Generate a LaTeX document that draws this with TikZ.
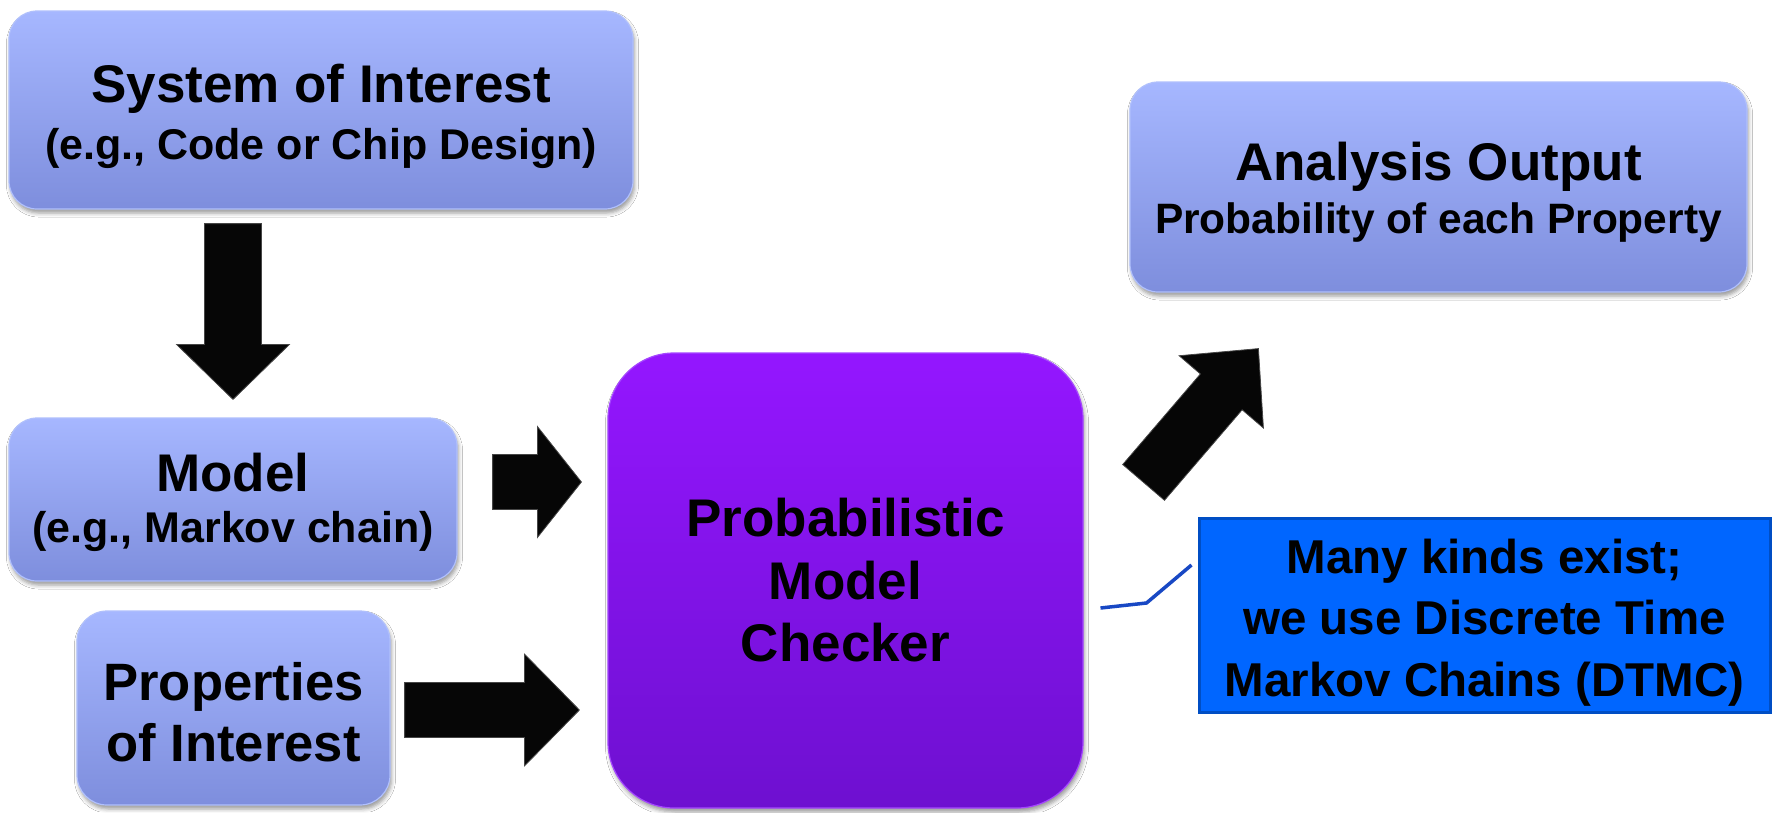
\documentclass[tikz,border=0pt]{standalone}
\usepackage{fontspec}
\setmainfont{Liberation Sans}
\usetikzlibrary{calc,shadows.blur}

\definecolor{boxTop}{RGB}{166,183,255}
\definecolor{boxBot}{RGB}{126,142,221}
\definecolor{boxEdge}{RGB}{176,192,252}
\definecolor{purTop}{RGB}{148,22,255}
\definecolor{purBot}{RGB}{110,16,208}
\definecolor{purEdge}{RGB}{165,70,255}
\definecolor{noteFill}{RGB}{0,102,255}
\definecolor{noteEdge}{RGB}{0,78,196}
\definecolor{leader}{RGB}{24,72,196}
\definecolor{arrowInk}{RGB}{6,6,6}
\definecolor{arrowEdge}{RGB}{70,70,70}

% block arrow: tail, tip, shaft half-width, head half-width, head length
\newcommand\blockarrow[5]{%
  \coordinate (ba-base) at ($(#2)!#5!(#1)$);
  \fill[arrowbody]
    ($(#1)!#3!90:(#2)$) -- ($(ba-base)!#3!-90:(#1)$) -- ($(ba-base)!#4!-90:(#1)$)
    -- (#2)
    -- ($(ba-base)!#4!90:(#1)$) -- ($(ba-base)!#3!90:(#1)$) -- ($(#1)!#3!-90:(#2)$) -- cycle;
}

\tikzset{
  softshadow/.style={blur shadow={shadow xshift=1.5pt, shadow yshift=-4pt,
      shadow blur radius=4pt, shadow opacity=40}},
  stagebox/.style={rounded corners=28pt, top color=boxTop, bottom color=boxBot,
      draw=boxEdge, line width=1.2pt, inner sep=0pt, align=center, text=black,
      softshadow},
  checkerbox/.style={rounded corners=66pt, top color=purTop, bottom color=purBot,
      draw=purEdge, line width=1.2pt, inner sep=0pt, align=center, text=black,
      softshadow},
  notebox/.style={fill=noteFill, draw=noteEdge, line width=3pt, inner sep=0pt,
      align=center, text=black},
  arrowbody/.style={fill=arrowInk, draw=arrowEdge, line width=0.8pt, line join=miter},
  leaderline/.style={draw=leader, line width=3.5pt},
}

\newcommand\bigsz[1]{\fontsize{53}{57}\selectfont #1}
% invisible strut that pushes a text block down inside its box
\newcommand\headroom[1]{\rule{0pt}{#1}}

\begin{document}
\begin{tikzpicture}[x=1pt, y=-1pt]
  \useasboundingbox (0,0) rectangle (1773,812);
  \fill[white] (0,0) rectangle (1773,812);

  % stages
  \node[stagebox, minimum width=624pt, minimum height=198pt,
        font=\fontsize{43}{57}\selectfont\bfseries] (sys) at (321,110)
    {\headroom{51pt}\bigsz{System of Interest}\\(e.g., Code or Chip Design)};
  \node[stagebox, minimum width=448pt, minimum height=163pt,
        font=\fontsize{43}{51}\selectfont\bfseries] (model) at (233,499.5)
    {\headroom{45pt}\bigsz{Model}\\(e.g., Markov chain)};
  \node[stagebox, minimum width=313pt, minimum height=194pt, rounded corners=30pt,
        font=\fontsize{52.6}{61}\selectfont\bfseries] (props) at (233.5,708)
    {\headroom{46.5pt}Properties\\of Interest};
  \node[checkerbox, minimum width=475pt, minimum height=455pt,
        font=\fontsize{53}{62.5}\selectfont\bfseries] (pmc) at (845.5,580.5)
    {Probabilistic\\Model\\Checker};
  \node[stagebox, minimum width=617pt, minimum height=210pt,
        font=\fontsize{42.5}{53}\selectfont\bfseries] (ana) at (1438.5,187)
    {\headroom{49pt}\bigsz{Analysis Output}\\Probability of each Property};
  \node[notebox, minimum width=571pt, minimum height=194pt,
        font=\fontsize{47.5}{61.5}\selectfont\bfseries] (note) at (1484.5,615)
    {\headroom{49pt}Many kinds exist;\\we use Discrete Time\\Markov Chains (DTMC)};

  % arrow end points, taken from the boxes they join
  \coordinate (a1s) at ($(sys.south -| model.north)+(0,14)$);
  \coordinate (a1e) at ($(model.north)+(0,-18)$);
  \coordinate (a2s) at ($(model.east)+(35,-17.5)$);
  \coordinate (a2e) at ($(model.east -| pmc.west)+(-26,-17.5)$);
  \coordinate (a3s) at ($(props.east)+(14,2)$);
  \coordinate (a3e) at ($(props.east -| pmc.west)+(-28,2)$);
  \coordinate (a4s) at ($(pmc.north east)+(60,130)$);
  \coordinate (a4e) at ($(ana.south west)+(129,56)$);

  \blockarrow{a1s}{a1e}{28.5pt}{56.5pt}{55pt}
  \blockarrow{a2s}{a2e}{27.5pt}{55.5pt}{44pt}
  \blockarrow{a3s}{a3e}{27.5pt}{56pt}{55pt}
  \blockarrow{a4s}{a4e}{27.5pt}{55.5pt}{57pt}

  % callout leader towards the checker
  \coordinate (lead0) at ($(note.west)+(-97,-7)$);
  \coordinate (lead1) at ($(note.west)+(-51,-12)$);
  \coordinate (lead2) at ($(note.west)+(-6,-50)$);
  \draw[leaderline] (lead0) -- (lead1) -- (lead2);
\end{tikzpicture}
\end{document}
